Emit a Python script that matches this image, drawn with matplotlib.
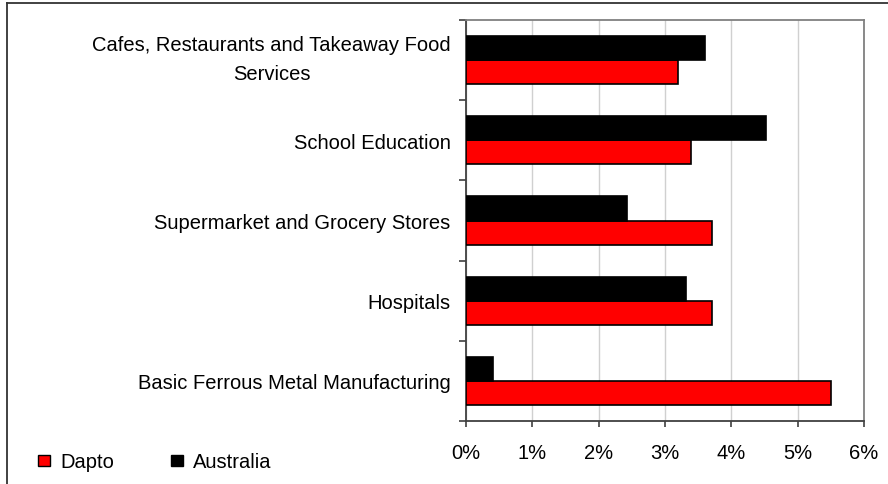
import numpy as np
import matplotlib
matplotlib.use('Agg')
import matplotlib.pyplot as plt
import matplotlib.transforms as mtransforms
from matplotlib.lines import Line2D
from matplotlib.patches import Patch

categories = ['Cafes, Restaurants and Takeaway Food\nServices',
              'School Education',
              'Supermarket and Grocery Stores',
              'Hospitals',
              'Basic Ferrous Metal Manufacturing']
dapto = [3.2, 3.39, 3.71, 3.71, 5.5]
australia = [3.6, 4.52, 2.42, 3.32, 0.4]
xticks = [0, 1, 2, 3, 4, 5, 6]

plt.rcParams['font.family'] = ['Liberation Sans', 'DejaVu Sans']
fs = 14.5

fig = plt.figure(figsize=(8.88, 4.85), dpi=100)
ax = fig.add_axes([466/888, 1-422/485, 398/888, 401/485])

y = np.arange(len(categories))
h = 0.3
ax.barh(y + h/2, dapto, height=h, color='#ff0000', edgecolor='black', linewidth=1.2, zorder=3)
ax.barh(y - h/2, australia, height=h, color='black', edgecolor='black', linewidth=1.2, zorder=3)

ax.set_ylim(len(categories) - 0.5, -0.5)
ax.set_xlim(0, 6)
ax.set_xticks(xticks)
ax.set_xticklabels(['%d%%' % v for v in xticks], fontsize=fs)
ax.set_yticks(y)
ax.set_yticklabels(categories, fontsize=fs, multialignment='center', linespacing=1.65)
ax.set_yticks(np.arange(-0.5, len(categories)), minor=True)
ax.tick_params(axis='y', which='major', length=0, pad=11)
ax.tick_params(axis='y', which='minor', length=5, width=1.2, color='#404040')
ax.tick_params(axis='x', length=4, width=1.2, color='#404040', pad=12)

# the wrapped label sits a little above its bars
lab = ax.get_yticklabels()[0]
lab.set_transform(lab.get_transform() + mtransforms.ScaledTranslation(0, 6/72, fig.dpi_scale_trans))

ax.grid(axis='x', color='#d0d0d0', linewidth=1, zorder=0)
for s in ['left', 'bottom']:
    ax.spines[s].set_color('#404040')
    ax.spines[s].set_linewidth(1.3)
for s in ['top', 'right']:
    ax.spines[s].set_color('#808080')
    ax.spines[s].set_linewidth(1.3)

# outer frame (left and top only)
fig.add_artist(Line2D([7/888, 7/888], [0, 1-4/485], color='#333333', lw=1.3))
fig.add_artist(Line2D([7/888, 1], [1-4/485, 1-4/485], color='#333333', lw=1.3))

handles = [Patch(facecolor='#ff0000', edgecolor='black'),
           Patch(facecolor='black', edgecolor='black')]
fig.legend(handles, ['Dapto', 'Australia'], loc='center left',
           bbox_to_anchor=(20/888, 1-463/485), ncol=2, frameon=False,
           fontsize=fs, handlelength=0.6, handleheight=0.5,
           handletextpad=0.5, columnspacing=2.8)

fig.savefig('out.png', dpi=100)
